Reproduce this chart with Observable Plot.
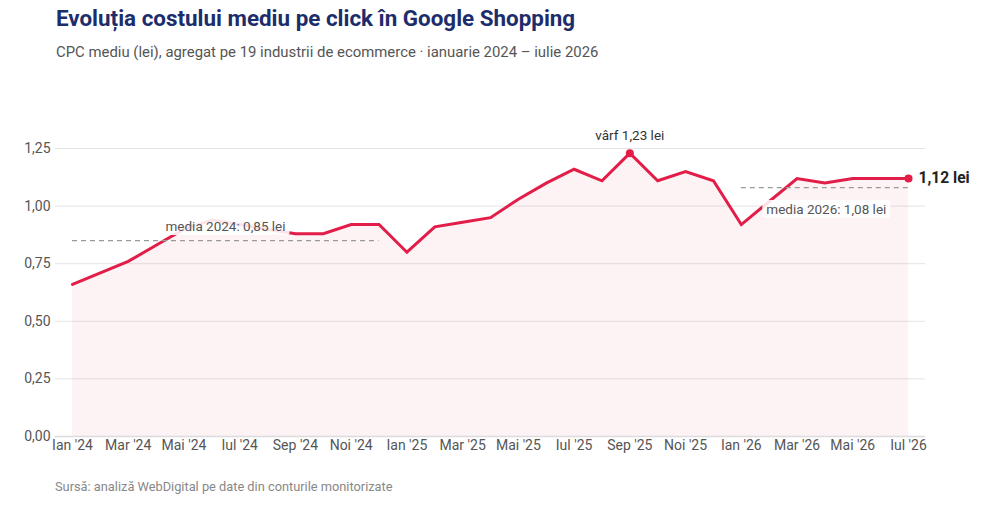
<!DOCTYPE html>
<html><head><meta charset="utf-8">
<script src="https://cdn.jsdelivr.net/npm/d3@7"></script>
<script src="https://cdn.jsdelivr.net/npm/@observablehq/plot@0.6"></script>
<style>
body{margin:0;background:#fff;font-family:Roboto,sans-serif;width:1000px;height:507px;position:relative;overflow:hidden}
#title{position:absolute;left:56px;top:5px;font-size:22.4px;font-weight:700;color:#1d2d6b;white-space:nowrap}
#sub{position:absolute;left:56px;top:43px;font-size:14.9px;color:#555;white-space:nowrap}
#chart{position:absolute;left:0;top:100px}
#src{position:absolute;left:55px;top:479px;font-size:12.8px;color:#888;white-space:nowrap}
</style></head>
<body>
<div id="title">Evoluția costului mediu pe click în Google Shopping</div>
<div id="sub">CPC mediu (lei), agregat pe 19 industrii de ecommerce · ianuarie 2024 – iulie 2026</div>
<div id="chart"></div>
<div id="src">Sursă: analiză WebDigital pe date din conturile monitorizate</div>
<script>
const months = ["Ian '24","Feb '24","Mar '24","Apr '24","Mai '24","Iun '24","Iul '24","Aug '24","Sep '24","Oct '24","Noi '24","Dec '24",
  "Ian '25","Feb '25","Mar '25","Apr '25","Mai '25","Iun '25","Iul '25","Aug '25","Sep '25","Oct '25","Noi '25","Dec '25",
  "Ian '26","Feb '26","Mar '26","Apr '26","Mai '26","Iun '26","Iul '26"];
const cpc = [0.66,0.71,0.76,0.83,0.90,0.94,0.92,0.90,0.88,0.88,0.92,0.92,
  0.80,0.91,0.93,0.95,1.03,1.10,1.16,1.11,1.23,1.11,1.15,1.11,
  0.92,1.02,1.12,1.10,1.12,1.12,1.12];
const yTicks = [0,0.25,0.5,0.75,1,1.25];
const xTickLabels = ["Ian '24","Mar '24","Mai '24","Iul '24","Sep '24","Noi '24","Ian '25","Mar '25","Mai '25","Iul '25","Sep '25","Noi '25","Ian '26","Mar '26","Mai '26","Iul '26"];
const meanLabels = ["media 2024: 0,85 lei","media 2026: 1,08 lei"];
const meanValues = [0.85,1.08];
const meanStart = ["Ian '24","Ian '26"];
const meanEnd = ["Dec '24","Iul '26"];
const peakLabel = "vârf 1,23 lei";
const lastLabel = "1,12 lei";

const idx = months.map((m,i)=>i);
const means = meanLabels.map((l,i)=>({label:l, value:meanValues[i], x1:months.indexOf(meanStart[i]), x2:months.indexOf(meanEnd[i])}));
const peak = d3.maxIndex(cpc);
const last = cpc.length-1;
const red = "#e11d48";

const chart = Plot.plot({
  width:1000, height:366,
  marginLeft:55, marginRight:75, marginTop:36.5, marginBottom:30,
  insetLeft:17, insetRight:17,
  style:{fontFamily:"Roboto, sans-serif", fontSize:"14px", color:"#555", background:"#fff", overflow:"visible"},
  x:{type:"linear", domain:[0,30]},
  y:{domain:[0,1.3]},
  marks:[
    Plot.gridY(yTicks,{stroke:"#e4e4e4", strokeOpacity:1}),
    Plot.areaY(idx,{x:i=>i, y:i=>cpc[i], fill:red, fillOpacity:0.06}),
    Plot.ruleY([0],{stroke:"#dcdcdc", strokeWidth:1.5}),
    Plot.axisY({ticks:yTicks, tickFormat:d=>d.toFixed(2).replace(".",","), tickSize:0, tickPadding:5, label:null, fill:"#555"}),
    Plot.axisX({ticks:xTickLabels.map(t=>months.indexOf(t)), tickFormat:i=>months[i], tickSize:0, tickPadding:4, label:null, fill:"#555"}),
    Plot.lineY(idx,{x:i=>i, y:i=>cpc[i], stroke:red, strokeWidth:3, strokeLinejoin:"miter", strokeMiterlimit:4}),
    Plot.ruleY(means,{y:"value", x1:"x1", x2:"x2", stroke:"#9a9a9a", strokeWidth:1.3, strokeDasharray:"5,4"}),
    Plot.text([means[0]],{x:"x1", y:"value", text:"label", dx:93, dy:-14, textAnchor:"start", fill:"#555", fontSize:13.5, className:"boxed"}),
    Plot.text([means[1]],{x:"x1", y:"value", text:"label", dx:25, dy:22, textAnchor:"start", fill:"#555", fontSize:13.5, className:"boxed"}),
    Plot.dot([peak],{x:i=>i, y:i=>cpc[i], r:4, fill:red}),
    Plot.text([peak],{x:i=>i, y:i=>cpc[i], text:()=>peakLabel, dy:-17, fill:"#333", fontSize:13.5}),
    Plot.dot([last],{x:i=>i, y:i=>cpc[i], r:4, fill:red}),
    Plot.text([last],{x:i=>i, y:i=>cpc[i], text:()=>lastLabel, dx:10, textAnchor:"start", fill:"#222", fontSize:15.6, fontWeight:"bold"})
  ]
});
document.getElementById("chart").appendChild(chart);
const svgEl = chart.tagName.toLowerCase()==="svg" ? chart : chart.querySelector("svg");
svgEl.querySelectorAll("g.boxed text").forEach(t=>{
  const b = t.getBBox();
  const r = document.createElementNS("http://www.w3.org/2000/svg","rect");
  r.setAttribute("x", b.x-4); r.setAttribute("y", b.y-1);
  r.setAttribute("width", b.width+8); r.setAttribute("height", b.height+2);
  r.setAttribute("rx", 3); r.setAttribute("fill","#fff"); r.setAttribute("fill-opacity","0.88");
  const tr = t.getAttribute("transform");
  if (tr) r.setAttribute("transform", tr);
  t.parentNode.insertBefore(r, t);
});
</script>
</body></html>
